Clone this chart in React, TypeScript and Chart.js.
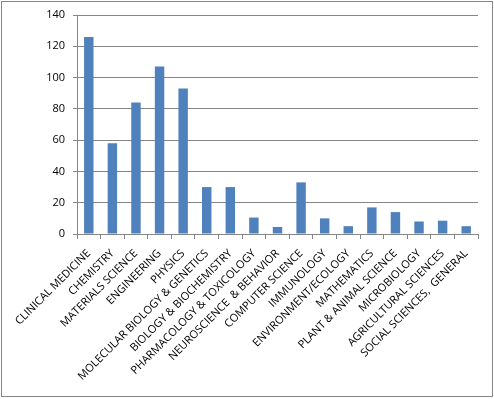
import React, { useEffect, useRef } from "react";
import { Chart, registerables } from "chart.js";

Chart.register(...registerables);

const categories = [
  "CLINICAL MEDICINE",
  "CHEMISTRY",
  "MATERIALS SCIENCE",
  "ENGINEERING",
  "PHYSICS",
  "MOLECULAR BIOLOGY & GENETICS",
  "BIOLOGY & BIOCHEMISTRY",
  "PHARMACOLOGY & TOXICOLOGY",
  "NEUROSCIENCE  & BEHAVIOR",
  "COMPUTER SCIENCE",
  "IMMUNOLOGY",
  "ENVIRONMENT/ECOLOGY",
  "MATHEMATICS",
  "PLANT & ANIMAL SCIENCE",
  "MICROBIOLOGY",
  "AGRICULTURAL SCIENCES",
  "SOCIAL SCIENCES,  GENERAL",
];

const values = [126, 58, 84, 107, 93, 30, 30, 10.5, 4.5, 33, 10, 5, 17, 14, 8, 8.5, 5];

const yMin = 0;
const yMax = 140;
const yStep = 20;

const GRID = "#868686";
const FONT = "'Open Sans', 'Liberation Sans', sans-serif";

const borderPlugin = {
  id: "outerBorder",
  afterDraw(chart: any) {
    const ctx = chart.ctx;
    ctx.save();
    ctx.strokeStyle = "#868686";
    ctx.lineWidth = 1;
    ctx.strokeRect(1.5, 1.5, 491, 395);
    ctx.restore();
  },
};

export default function App() {
  const ref = useRef<HTMLCanvasElement>(null);

  useEffect(() => {
    document.body.style.margin = "0";
    const chart = new Chart(ref.current!, {
      type: "bar",
      data: {
        labels: categories,
        datasets: [
          {
            data: values,
            backgroundColor: "#4F81BD",
            barPercentage: 0.4,
            categoryPercentage: 1,
          },
        ],
      },
      options: {
        responsive: false,
        animation: false,
        events: [],
        layout: { padding: { top: 15, right: 16, left: 0, bottom: 0 } },
        plugins: {
          legend: { display: false },
          tooltip: { enabled: false },
        },
        scales: {
          x: {
            offset: true,
            grid: {
              offset: true,
              drawOnChartArea: false,
              drawTicks: true,
              tickLength: 5,
              color: GRID,
            },
            border: { color: GRID },
            ticks: {
              autoSkip: false,
              minRotation: 45,
              maxRotation: 45,
              color: "#000",
              padding: 8,
              font: { family: FONT, size: 11 },
            },
            afterFit(scale: any) {
              scale.height = 165;
            },
          },
          y: {
            min: yMin,
            max: yMax,
            ticks: {
              stepSize: yStep,
              color: "#000",
              padding: 8,
              font: { family: FONT, size: 11 },
            },
            grid: { color: GRID, tickLength: 4 },
            border: { color: GRID },
            afterFit(scale: any) {
              scale.width = 77;
            },
          },
        },
      },
      plugins: [borderPlugin],
    });
    return () => chart.destroy();
  }, []);

  return (
    <div style={{ position: "absolute", left: 0, top: 0, width: 494, height: 399, background: "#fff" }}>
      <canvas ref={ref} width={494} height={399} />
    </div>
  );
}
